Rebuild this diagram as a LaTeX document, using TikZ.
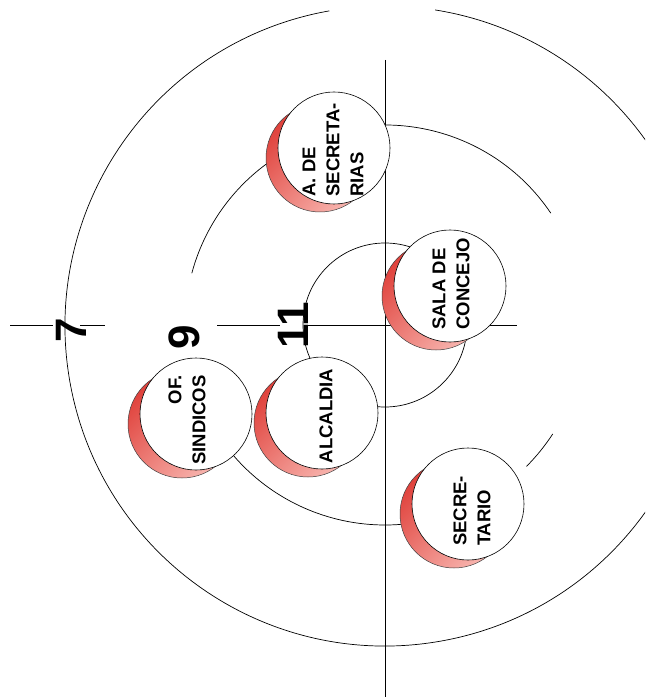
\documentclass[tikz,border=0pt]{standalone}
\usepackage{fontspec}
\setmainfont{Liberation Sans}
\definecolor{crA}{RGB}{224,66,60}
\definecolor{crB}{RGB}{248,182,176}
\begin{document}
\begin{tikzpicture}[x=1pt,y=-1pt,
  arcline/.style={line width=0.7pt},
  axisline/.style={line width=1pt},
  redc/.style={circle, minimum size=108pt, inner sep=0pt, draw=black!75, line width=0.5pt,
    top color=crA, bottom color=crB, shading angle=45},
  whitec/.style={circle, minimum size=112pt, inner sep=0pt, draw=black, fill=white, line width=0.6pt},
  lbl/.style={font=\fontsize{18.5}{24}\selectfont\bfseries, rotate=90, inner sep=0pt},
  num/.style={font=\fontsize{44}{44}\selectfont\bfseries, rotate=90, inner sep=0pt}]
\useasboundingbox (0,0) rectangle (645,700);
\coordinate (O) at (385,326);
\coordinate (M) at (385,325);
\begin{scope}
\clip (0,0) rectangle (645,700);
% outer circle (7)
\draw[arcline] (O) ++(-100:320) arc[start angle=-100, end angle=-441, radius=320];
% middle circle (9)
\draw[arcline] (M) ++(-34:200) arc[start angle=-34, end angle=-165, radius=200];
\draw[arcline] (M) ++(-190:200) arc[start angle=-190, end angle=-300, radius=200];
\draw[arcline] (M) ++(45:200) arc[start angle=45, end angle=33, radius=200];
% inner circle (11)
\draw[arcline] (M) circle[radius=82];
\end{scope}
% axes
\coordinate (vt) at (385,60);
\coordinate (vb) at (385,697);
\draw[axisline] (vt) -- (vb);
\coordinate (h1) at (10,325); \coordinate (h2) at (53,325);
\coordinate (h3) at (80,325); \coordinate (h4) at (105,325);
\coordinate (h5) at (217,325); \coordinate (h6) at (280,325);
\coordinate (h7) at (305,325); \coordinate (h8) at (517,325);
\draw[axisline] (h1) -- (h2) (h3) -- (h4) (h5) -- (h6) (h7) -- (h8);
% offices
\coordinate (secC) at (334,148);
\coordinate (salC) at (450,286);
\coordinate (sinC) at (196,414);
\coordinate (alcC) at (322,413);
\coordinate (stoC) at (468,504);
\node[redc] (secR) at ([shift={(-14,10)}]secC) {};
\node[whitec] (sec) at (secC) {};
\node[redc] (salR) at ([shift={(-14,10)}]salC) {};
\node[whitec] (sal) at (salC) {};
\node[redc] (sinR) at ([shift={(-14,10)}]sinC) {};
\node[whitec] (sin) at (sinC) {};
\node[redc] (alcR) at ([shift={(-14,10)}]alcC) {};
\node[whitec] (alc) at (alcC) {};
\node[redc] (stoR) at ([shift={(-14,10)}]stoC) {};
\node[whitec] (sto) at (stoC) {};
\node[lbl, align=left] (secT) at (333,150) {A. DE\\SECRETA-\\RIAS};
\node[lbl, align=left] (salT) at (451,284) {SALA DE\\CONCEJO};
\node[lbl, align=right] (sinT) at (187,420) {OF.\\SINDICOS};
\node[lbl, align=left] (alcT) at (326,416) {ALCALDIA};
\node[lbl, align=left] (stoT) at (472,511) {SECRE-\\TARIO};
% ring numbers
\node[num] (n7) at (71,330) {7};
\node[num] (n9) at (184,337) {9};
\node[num] (n11) at (293,325) {11};
\end{tikzpicture}
\end{document}
